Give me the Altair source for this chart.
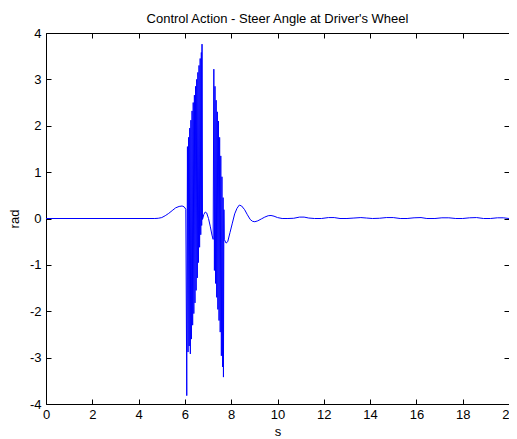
import altair as alt
import pandas as pd

# time (s) and steer angle (rad)
t_s = [
    0.0, 4.7, 4.85, 5.0, 5.15, 5.3, 5.45, 5.6, 5.75, 5.88, 5.97, 6.04,
    6.08, 6.11, 6.135, 6.16, 6.185, 6.21, 6.235, 6.26, 6.285, 6.31, 6.335, 6.36,
    6.385, 6.41, 6.435, 6.46, 6.485, 6.51, 6.535, 6.56, 6.585, 6.61, 6.635, 6.66,
    6.685, 6.71, 6.725, 6.74, 6.76,
    6.82, 6.88, 6.94, 7.02, 7.10, 7.17, 7.22,
    7.25, 7.275, 7.30, 7.325, 7.35, 7.375, 7.40, 7.425, 7.45, 7.475, 7.50, 7.525,
    7.55, 7.575, 7.60, 7.625, 7.65, 7.665, 7.685, 7.70,
    7.78, 7.85, 7.95, 8.05, 8.15, 8.25, 8.35, 8.45, 8.58, 8.70, 8.82, 8.92,
    9.02, 9.15, 9.30, 9.45, 9.60, 9.72, 9.85, 10.0, 10.2, 10.45, 10.7, 10.95,
    11.15, 11.35, 11.6, 11.9, 12.2, 12.45, 12.7, 13.0, 13.3, 13.6, 13.85, 14.1,
    14.4, 14.7, 15.0, 15.3, 15.6, 15.9, 16.2, 16.45, 16.8, 17.1, 17.4, 17.7,
    18.0, 18.3, 18.6, 18.9, 19.2, 19.5, 19.75, 20.0,
]
rad = [
    0.0, 0.0, 0.005, 0.02, 0.06, 0.11, 0.17, 0.23, 0.26, 0.27, 0.25, 0.2,
    -3.82, 1.55, -2.88, 1.75, -2.75, 1.95, -2.92, 2.12, -2.6, 2.32, -2.3, 2.5,
    -2.05, 2.66, -1.82, 2.85, -1.55, 3.0, -1.28, 3.15, -0.95, 3.3, -0.62, 3.45,
    -0.35, 3.58, -0.15, 3.76, -0.02,
    0.09, 0.14, 0.12, 0.0, -0.18, -0.36, -0.45,
    3.22, -1.12, 2.85, -1.4, 2.55, -1.7, 2.3, -1.96, 2.1, -2.2, 1.75, -2.45,
    1.35, -2.96, 0.9, -3.2, 0.45, -3.42, 0.19, -0.45,
    -0.53, -0.5, -0.3, -0.1, 0.1, 0.22, 0.29, 0.27, 0.19, 0.08, -0.02, -0.06,
    -0.07, -0.05, -0.01, 0.03, 0.06, 0.065, 0.05, 0.02, 0.0, 0.0, 0.005, 0.03,
    0.03, 0.01, 0.0, 0.0, 0.02, 0.02, 0.0, 0.0, 0.01, 0.02, 0.01, 0.0,
    0.005, 0.02, 0.02, 0.0, 0.0, 0.015, 0.02, 0.0, 0.0, 0.015, 0.015, 0.0,
    0.0, 0.015, 0.02, 0.0, 0.0, 0.015, 0.015, 0.0,
]
x_ticks = [0, 2, 4, 6, 8, 10, 12, 14, 16, 18, 20]
y_ticks = [-4, -3, -2, -1, 0, 1, 2, 3, 4]

df = pd.DataFrame({"t": t_s, "v": rad})
FONT = "Liberation Sans"

x_scale = alt.Scale(domain=[0, 20], nice=False, zero=False)
y_scale = alt.Scale(domain=[-4, 4], nice=False, zero=False)

main = alt.Chart(df).mark_line(color="#0000ff", strokeWidth=1, clip=True).encode(
    x=alt.X("t:Q", scale=x_scale,
            axis=alt.Axis(values=x_ticks, orient="bottom", offset=-5, tickSize=5,
                          domain=False, grid=False, labelPadding=4, labelFlush=False,
                          labelExpr="'' + datum.value", title="s", titlePadding=4)),
    y=alt.Y("v:Q", scale=y_scale,
            axis=alt.Axis(values=y_ticks, orient="left", offset=-5, tickSize=5,
                          domain=False, grid=False, labelPadding=5, labelFlush=False,
                          labelExpr="'' + datum.value", title="rad", titlePadding=8)),
)

mirror = alt.Chart(df).mark_line(opacity=0).encode(
    x=alt.X("t:Q", scale=x_scale,
            axis=alt.Axis(values=x_ticks, orient="top", offset=-5, tickSize=5,
                          domain=False, grid=False, labels=False, title=None)),
    y=alt.Y("v:Q", scale=y_scale,
            axis=alt.Axis(values=y_ticks, orient="right", offset=-5, tickSize=5,
                          domain=False, grid=False, labels=False, title=None)),
)

chart = (
    alt.layer(main, mirror)
    .resolve_axis(x="independent", y="independent")
    .properties(
        width=463,
        height=371,
        title=alt.TitleParams(text="Control Action - Steer Angle at Driver's Wheel",
                              font=FONT, fontSize=13, fontWeight="normal",
                              color="black", anchor="middle", offset=1),
        autosize=alt.AutoSizeParams(type="none"),
        padding={"left": 38, "top": 25, "right": 0, "bottom": 34},
        background="white",
    )
    .configure_view(stroke="black", strokeWidth=1)
    .configure_axis(labelFont=FONT, labelFontSize=13, labelColor="black",
                    titleFont=FONT, titleFontSize=13, titleFontWeight="normal",
                    titleColor="black", tickColor="black", tickWidth=1)
)

chart.save("out.html", embed_options={"renderer": "svg", "actions": False})
